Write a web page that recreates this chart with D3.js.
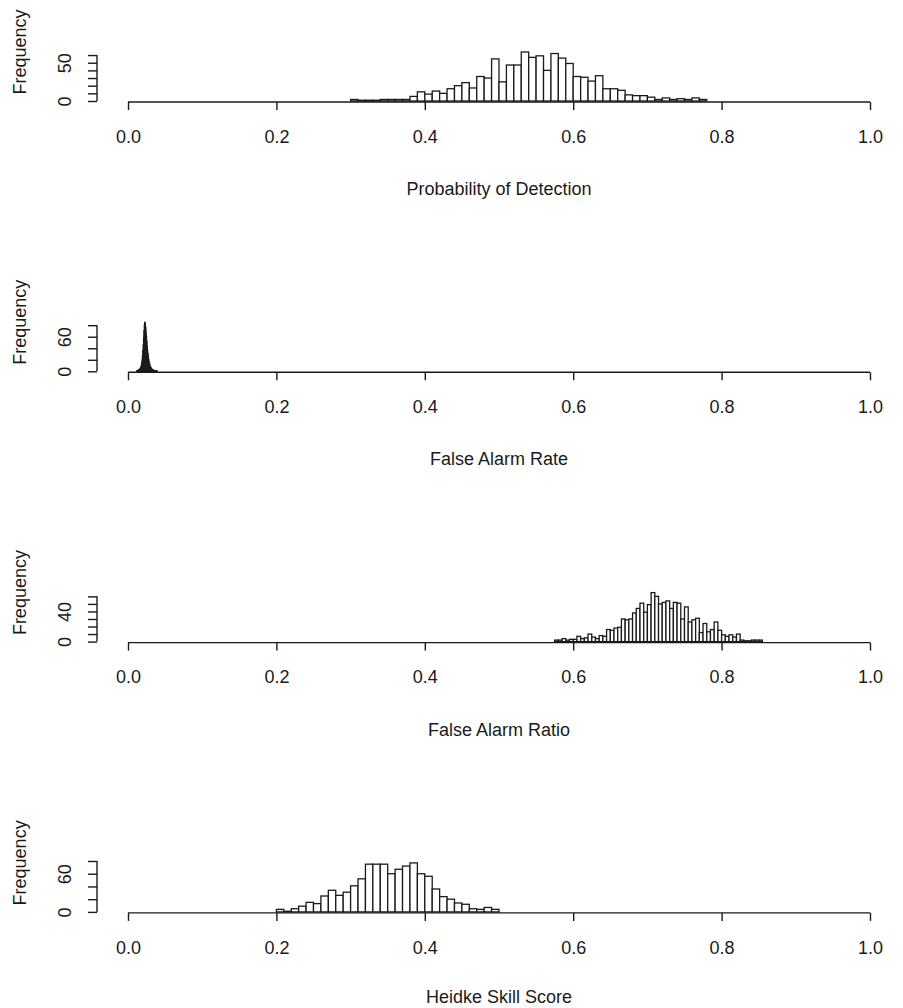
<!DOCTYPE html>
<html><head><meta charset="utf-8">
<script src="https://cdn.jsdelivr.net/npm/d3@7"></script>
<style>body{margin:0;background:#fff}svg{display:block}</style>
</head><body>
<script>
// ---------- data ----------
const titles = ["Probability of Detection", "False Alarm Rate", "False Alarm Ratio", "Heidke Skill Score"];
const xTickValues = [0, 0.2, 0.4, 0.6, 0.8, 1.0];

const podStart = 0.30, podBinWidth = 0.01;
const podCounts = [2,1,1,1,2,2,2,2,6,12,9,13,10,16,20,24,17,32,30,55,25,47,47,64,57,59,40,62,56,49,32,31,26,33,16,16,14,8,7,7,5,2,4,2,3,2,4,2];
const podTicks = [0,10,20,30,40,50,60];
const podTickLabels = [0,50];

const farStart = 0.012, farBinWidth = 0.0005;
const farCounts = [1,1,1,1,2,2,3,3,4,5,6,8,11,15,20,27,36,46,58,70,80,85,82,76,68,60,52,44,37,31,26,21,17,14,11,9,7,6,5,4,3,3,2,2,2,1,1,1,1,1,1,1,1,1];
const farTicks = [0,20,40,60,80];
const farTickLabels = [0,60];

const farrStart = 0.575, farrBinWidth = 0.005;
const farrCounts = [2,2,4,2,3,3,7,4,5,10,6,4,8,7,16,15,18,19,30,29,30,38,44,51,39,49,65,60,50,52,54,44,52,51,30,46,26,29,31,12,24,13,16,26,15,9,7,9,6,10,2,1,1,2,2,2];
const farrTicks = [0,10,20,30,40,50,60];
const farrTickLabels = [0,40];

const hssStart = 0.20, hssBinWidth = 0.01;
const hssCounts = [4,1,5,9,15,13,25,34,26,31,41,52,75,75,75,60,67,72,77,60,56,36,24,20,14,12,5,4,7,4];
const hssTicks = [0,20,40,60,80];
const hssTickLabels = [0,60];

// ---------- layout ----------
const W = 903, H = 1008;
const FONT = "'Liberation Sans', Arial, Helvetica, sans-serif";
const FS = 18;
const panels = [
  {title: titles[0], start: podStart, bw: podBinWidth, counts: podCounts, ticks: podTicks, labels: podTickLabels},
  {title: titles[1], start: farStart, bw: farBinWidth, counts: farCounts, ticks: farTicks, labels: farTickLabels},
  {title: titles[2], start: farrStart, bw: farrBinWidth, counts: farrCounts, ticks: farrTicks, labels: farrTickLabels},
  {title: titles[3], start: hssStart, bw: hssBinWidth, counts: hssCounts, ticks: hssTicks, labels: hssTickLabels}
];

const svg = d3.select("body").append("svg").attr("width", W).attr("height", H)
  .style("font-family", FONT);

const x = d3.scaleLinear().domain([0, 1]).range([128, 870]);
const yAxisX = 97;
const axisTop0 = 102, panelStep = 270.3;
const peakPx = 49;

panels.forEach((p, i) => {
  const axisY = axisTop0 + panelStep * i;
  const g = svg.append("g");
  const bars = p.counts.map((c, j) => ({x0: p.start + j * p.bw, x1: p.start + (j + 1) * p.bw, c}));
  const y = d3.scaleLinear().domain([0, d3.max(p.counts)]).range([axisY - 1, axisY - 1 - peakPx]);

  // bars
  g.selectAll("rect.bar").data(bars).join("rect")
    .attr("x", d => x(d.x0)).attr("width", d => x(d.x1) - x(d.x0))
    .attr("y", d => y(d.c)).attr("height", d => y(0) - y(d.c))
    .attr("fill", "#fff").attr("stroke", "#1a1a1a").attr("stroke-width", 1.3);

  // x axis
  const xa = d3.axisBottom(x).tickValues(xTickValues).tickSize(8).tickPadding(20)
    .tickFormat(d3.format(".1f"));
  const gx = g.append("g").attr("transform", `translate(0,${axisY})`).call(xa);
  gx.select(".domain").attr("stroke", "#1a1a1a").attr("stroke-width", 1.4)
    .attr("d", `M${x(0)},0H${x(1)}`);
  gx.selectAll(".tick line").attr("stroke", "#1a1a1a").attr("stroke-width", 1.4);
  gx.selectAll(".tick text").attr("font-size", FS).attr("font-family", FONT).attr("fill", "#1a1a1a");

  // y axis
  const ya = d3.axisLeft(y).tickValues(p.ticks).tickSize(9)
    .tickFormat(d => p.labels.includes(d) ? String(d) : "");
  const gy = g.append("g").attr("transform", `translate(${yAxisX},0)`).call(ya);
  gy.select(".domain").attr("stroke", "#1a1a1a").attr("stroke-width", 1.4)
    .attr("d", `M0,${y(p.ticks[0])}V${y(p.ticks[p.ticks.length - 1])}`);
  gy.selectAll(".tick line").attr("stroke", "#1a1a1a").attr("stroke-width", 1.4);
  gy.selectAll(".tick text").attr("font-size", FS).attr("font-family", FONT).attr("fill", "#1a1a1a")
    .attr("x", null).attr("dy", null)
    .attr("text-anchor", "middle")
    .attr("transform", `translate(${71 - yAxisX},0) rotate(-90)`);

  // x title
  g.append("text").attr("x", x(0.5)).attr("y", Math.min(axisY + 93, H - 5)).attr("text-anchor", "middle")
    .attr("font-size", FS).attr("fill", "#1a1a1a").text(p.title);
  // y title
  g.append("text").attr("transform", `translate(26,${axisY - 50}) rotate(-90)`)
    .attr("text-anchor", "middle").attr("font-size", FS).attr("fill", "#1a1a1a").text("Frequency");
});
</script>
</body></html>
